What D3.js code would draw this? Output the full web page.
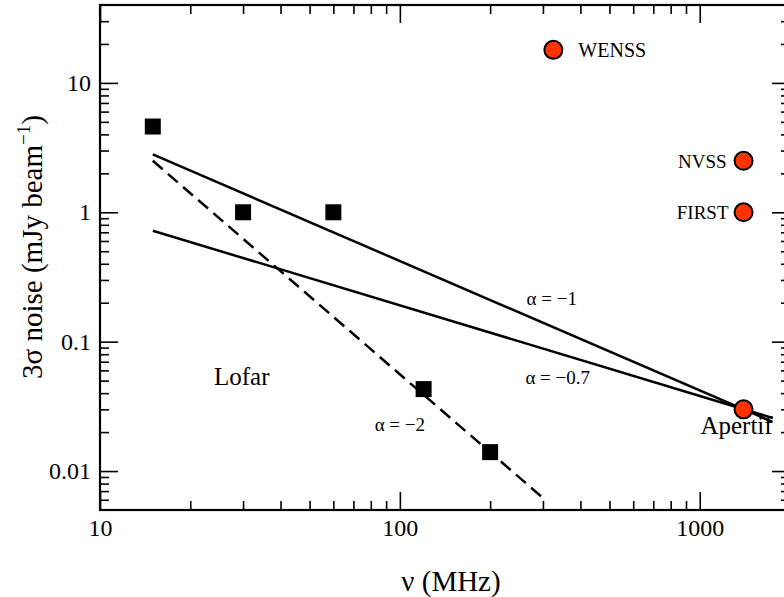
<!DOCTYPE html>
<html>
<head>
<meta charset="utf-8">
<script src="https://cdn.jsdelivr.net/npm/d3@7"></script>
<style>
  body { margin: 0; background: #fff; }
  svg text { font-family: "Liberation Serif", "DejaVu Serif", serif; fill: #000; }
</style>
</head>
<body>
<div id="chart"></div>
<script>
// Lofar sensitivities (squares)
var lofarFreq = [15, 30, 60, 120, 200];
var lofarNoise = [4.6, 1.0, 1.0, 0.043, 0.014];

// existing / planned surveys (red circles)
var surveyNames = ["WENSS", "NVSS", "FIRST", "Apertif"];
var surveyFreq = [325, 1400, 1400, 1400];
var surveyNoise = [18, 2.5, 1.0, 0.03];

// spectral index lines, start and end points
var lineNames = ["α = −1", "α = −0.7", "α = −2"];
var lineFreq = [[15, 1750], [15, 1750], [15, 300]];
var lineNoise = [[2.8, 0.024], [0.72, 0.0257], [2.5, 0.0062]];
var lineDashed = [false, false, true];

// free text labels
var noteText = ["Lofar", "α = −1", "α = −0.7", "α = −2"];
var noteFreq = [29.7, 321, 336, 100];
var noteNoise = [0.046, 0.191, 0.0467, 0.0203];

var xTickValues = [10, 100, 1000];
var yTickValues = [0.01, 0.1, 1, 10];

var width = 784, height = 597;
var margin = {left: 100, right: 790, top: 5, bottom: 510};

var svg = d3.select("#chart").append("svg")
    .attr("width", width)
    .attr("height", height);

var x = d3.scaleLog().domain([10, 2000]).range([margin.left, margin.right]);
var y = d3.scaleLog().domain([0.005, 40]).range([margin.bottom, margin.top]);

// minor ticks at 2..9 of every decade
function minors(domain) {
    var out = [];
    for (var p = -3; p <= 4; p++) {
        for (var m = 2; m <= 9; m++) {
            var v = +(m * Math.pow(10, p)).toPrecision(3);
            if (v > domain[0] && v < domain[1]) out.push(v);
        }
    }
    return out;
}

function tidy(g) {
    g.attr("font-family", null);
    g.select(".domain").remove();
    g.selectAll(".tick line").attr("stroke", "#000").attr("stroke-width", 1.6);
    g.selectAll(".tick text").style("font-size", "24px");
}

var fmt = d3.format("~g");

// major + minor ticks on all four sides, pointing inward
svg.append("g").attr("transform", "translate(0," + margin.bottom + ")")
    .call(d3.axisBottom(x).tickValues(xTickValues).tickSize(-18).tickPadding(9).tickFormat(fmt)).call(tidy);
svg.append("g").attr("transform", "translate(0," + margin.bottom + ")")
    .call(d3.axisBottom(x).tickValues(minors(x.domain())).tickSize(-9).tickFormat("")).call(tidy);
svg.append("g").attr("transform", "translate(0," + margin.top + ")")
    .call(d3.axisTop(x).tickValues(xTickValues).tickSize(-18).tickFormat("")).call(tidy);
svg.append("g").attr("transform", "translate(0," + margin.top + ")")
    .call(d3.axisTop(x).tickValues(minors(x.domain())).tickSize(-9).tickFormat("")).call(tidy);

svg.append("g").attr("transform", "translate(" + margin.left + ",0)")
    .call(d3.axisLeft(y).tickValues(yTickValues).tickSize(-18).tickPadding(9).tickFormat(fmt)).call(tidy);
svg.append("g").attr("transform", "translate(" + margin.left + ",0)")
    .call(d3.axisLeft(y).tickValues(minors(y.domain())).tickSize(-9).tickFormat("")).call(tidy);
svg.append("g").attr("transform", "translate(" + margin.right + ",0)")
    .call(d3.axisRight(y).tickValues(yTickValues).tickSize(-18).tickFormat("")).call(tidy);
svg.append("g").attr("transform", "translate(" + margin.right + ",0)")
    .call(d3.axisRight(y).tickValues(minors(y.domain())).tickSize(-9).tickFormat("")).call(tidy);

// frame
svg.append("rect")
    .attr("x", margin.left).attr("y", margin.top)
    .attr("width", margin.right - margin.left)
    .attr("height", margin.bottom - margin.top)
    .attr("fill", "none").attr("stroke", "#000").attr("stroke-width", 2.2);

// power law lines
var line = d3.line().x(function (d) { return x(d[0]); }).y(function (d) { return y(d[1]); });
svg.append("g").selectAll("path")
    .data(lineNames.map(function (n, i) {
        return {pts: d3.zip(lineFreq[i], lineNoise[i]), dashed: lineDashed[i]};
    }))
    .join("path")
    .attr("d", function (d) { return line(d.pts); })
    .attr("fill", "none")
    .attr("stroke", "#000")
    .attr("stroke-width", 2.5)
    .attr("stroke-dasharray", function (d) { return d.dashed ? "13,7" : null; });

// Lofar squares
var sq = 16;
svg.append("g").selectAll("rect")
    .data(d3.zip(lofarFreq, lofarNoise))
    .join("rect")
    .attr("x", function (d) { return x(d[0]) - sq / 2; })
    .attr("y", function (d) { return y(d[1]) - sq / 2; })
    .attr("width", sq).attr("height", sq)
    .attr("fill", "#000");

// survey circles
svg.append("g").selectAll("circle")
    .data(d3.zip(surveyFreq, surveyNoise))
    .join("circle")
    .attr("cx", function (d) { return x(d[0]); })
    .attr("cy", function (d) { return y(d[1]); })
    .attr("r", 9)
    .attr("fill", "#ff3300")
    .attr("stroke", "#000")
    .attr("stroke-width", 2);

// survey labels: offsets from the marker
var labOff = {
    WENSS: {dx: 25, dy: 7, anchor: "start", size: 20},
    NVSS: {dx: -17, dy: 7, anchor: "end", size: 19},
    FIRST: {dx: -15, dy: 7, anchor: "end", size: 19},
    Apertif: {dx: -7, dy: 25, anchor: "middle", size: 25}
};
svg.append("g").selectAll("text")
    .data(surveyNames.map(function (n, i) { return {name: n, f: surveyFreq[i], v: surveyNoise[i]}; }))
    .join("text")
    .attr("x", function (d) { return x(d.f) + labOff[d.name].dx; })
    .attr("y", function (d) { return y(d.v) + labOff[d.name].dy; })
    .attr("text-anchor", function (d) { return labOff[d.name].anchor; })
    .style("font-size", function (d) { return labOff[d.name].size + "px"; })
    .text(function (d) { return d.name; });

// free annotations
svg.append("g").selectAll("text")
    .data(noteText.map(function (t, i) { return {t: t, f: noteFreq[i], v: noteNoise[i]}; }))
    .join("text")
    .attr("x", function (d) { return x(d.f); })
    .attr("y", function (d) { return y(d.v); })
    .attr("text-anchor", "middle")
    .style("font-size", function (d) { return d.t === "Lofar" ? "25px" : "19px"; })
    .text(function (d) { return d.t; });

// axis titles
svg.append("text")
    .attr("x", 451).attr("y", 591)
    .attr("text-anchor", "middle")
    .style("font-size", "29px")
    .text("ν (MHz)");

var yt = svg.append("text")
    .attr("transform", "translate(42,247) rotate(-90)")
    .attr("text-anchor", "middle")
    .style("font-size", "29px");
yt.append("tspan").text("3σ noise (mJy beam");
yt.append("tspan").attr("dy", -12).style("font-size", "19px").text("−1");
yt.append("tspan").attr("dy", 12).text(")");
</script>
</body>
</html>
